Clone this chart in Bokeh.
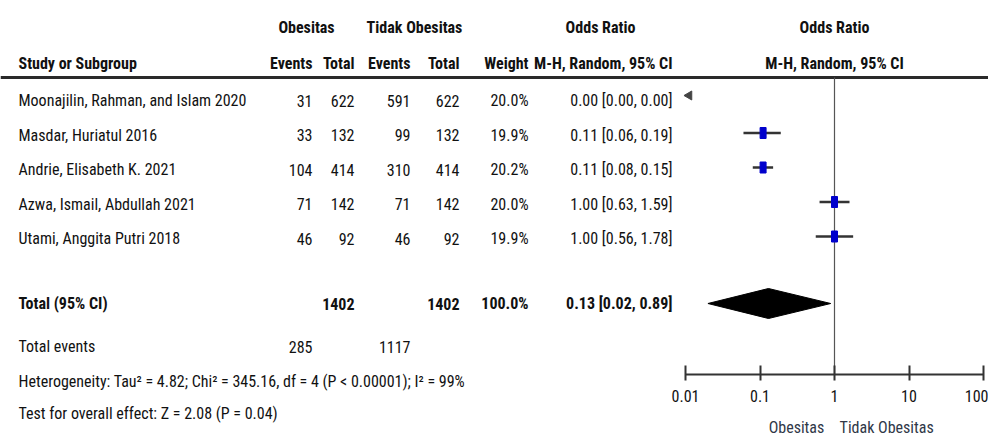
from bokeh.plotting import figure
from bokeh.models import Range1d, LogAxis, FixedTicker, ColumnDataSource, LogScale
from bokeh.core.properties import value
from bokeh.embed import file_html
from bokeh.resources import INLINE

# ---------------- data ----------------
studies = ["Moonajilin, Rahman, and Islam 2020", "Masdar, Huriatul 2016",
           "Andrie, Elisabeth K. 2021", "Azwa, Ismail, Abdullah 2021",
           "Utami, Anggita Putri 2018"]
ev_ob = [31, 33, 104, 71, 46]
tot_ob = [622, 132, 414, 142, 92]
ev_non = [591, 99, 310, 71, 46]
tot_non = [622, 132, 414, 142, 92]
weights = [20.0, 19.9, 20.2, 20.0, 19.9]
or_est = [0.00, 0.11, 0.11, 1.00, 1.00]
or_lo = [0.00, 0.06, 0.08, 0.63, 0.56]
or_hi = [0.00, 0.19, 0.15, 1.59, 1.78]
total_n = [1402, 1402]
total_weight = 100.0
total_or = [0.13, 0.02, 0.89]
total_events = [285, 1117]
heterogeneity = "Heterogeneity: Tau\u00b2 = 4.82; Chi\u00b2 = 345.16, df = 4 (P < 0.00001); I\u00b2 = 99%"
overall = "Test for overall effect: Z = 2.08 (P = 0.04)"
tick_values = [0.01, 0.1, 1, 10, 100]
tick_labels = ["0.01", "0.1", "1", "10", "100"]
group_labels = ["Obesitas", "Tidak Obesitas"]

# ---------------- style ----------------
FONT_NAME = "Roboto Condensed, DejaVu Sans Condensed, Liberation Sans"
FONT = value(FONT_NAME)
FS = "16px"
FSB = "16px"
TXT = "#111111"

row_y = [100 + 34.5 * i for i in range(len(studies))]
total_y = 303
header1_y = 27
header2_y = 63
line_y = 77
axis_y = 374

W, H = 988, 437
# log scale: 0.01 at px 685, 100 at px 983 (frame spans 0..W)
x0_px, decade = 685.0, 74.5
log_lo = 10 ** (-2 - x0_px / decade)
log_hi = 10 ** (2 + (W - (x0_px + 4 * decade)) / decade)

p = figure(width=W, height=H, x_range=Range1d(0, W), y_range=Range1d(H, 0),
           output_backend="svg", toolbar_location=None, min_border=0,
           outline_line_color=None, x_axis_type=None, y_axis_type=None)
p.grid.visible = False
p.extra_x_ranges = {"log": Range1d(log_lo, log_hi)}
p.extra_x_scales = {"log": LogScale()}

ax = LogAxis(x_range_name="log", fixed_location=axis_y,
             ticker=FixedTicker(ticks=tick_values), bounds=(tick_values[0], tick_values[-1]),
             major_label_overrides={v: l for v, l in zip(tick_values, tick_labels)},
             axis_line_color="#333333", axis_line_width=2,
             major_tick_line_color="#333333", major_tick_line_width=2,
             major_tick_in=9, major_tick_out=6, minor_tick_line_color=None,
             major_label_standoff=9, major_label_text_font=FONT_NAME,
             major_label_text_font_size="16px", major_label_text_color=TXT)
p.add_layout(ax, "below")


def txt(x, y, s, align="left", bold=False, size=None, color=TXT, xr="default"):
    p.text(x=[x], y=[y], text=[s], text_font=FONT,
           text_font_size=size or (FSB if bold else FS),
           text_font_style="bold" if bold else "normal",
           text_align=align, text_baseline="middle", text_color=color, x_range_name=xr)


# headers
txt(306, header1_y, group_labels[0], "center", True)
txt(414, header1_y, group_labels[1], "center", True)
txt(600, header1_y, "Odds Ratio", "center", True)
txt(1, header1_y, "Odds Ratio", "center", True, xr="log")
txt(18, header2_y, "Study or Subgroup", "left", True)
col_x = [312, 354, 410, 459, 528, 672]
for x, s in zip(col_x, ["Events", "Total", "Events", "Total", "Weight", "M-H, Random, 95% CI"]):
    txt(x, header2_y, s, "right", True)
txt(1, header2_y, "M-H, Random, 95% CI", "center", True, xr="log")
p.segment(x0=[0], x1=[W], y0=[line_y], y1=[line_y], line_color="#2a2a2a", line_width=3)

# study rows
src = ColumnDataSource(dict(
    y=row_y, name=studies,
    e1=[str(v) for v in ev_ob], t1=[str(v) for v in tot_ob],
    e2=[str(v) for v in ev_non], t2=[str(v) for v in tot_non],
    w=[f"{v:.1f}%" for v in weights],
    ci=[f"{a:.2f} [{b:.2f}, {c:.2f}]" for a, b, c in zip(or_est, or_lo, or_hi)],
))
common = dict(source=src, y="y", text_font=FONT, text_font_size=FS,
              text_baseline="middle", text_color=TXT)
p.text(x=18, text="name", text_align="left", **common)
for x, col in zip(col_x, ["e1", "t1", "e2", "t2", "w", "ci"]):
    p.text(x=x, text=col, text_align="right", **common)

# total rows
txt(18, total_y, "Total (95% CI)", "left", True)
txt(col_x[1], total_y, str(total_n[0]), "right", True)
txt(col_x[3], total_y, str(total_n[1]), "right", True)
txt(col_x[4], total_y, f"{total_weight:.1f}%", "right", True)
txt(col_x[5], total_y, f"{total_or[0]:.2f} [{total_or[1]:.2f}, {total_or[2]:.2f}]", "right", True)
txt(18, 346, "Total events")
txt(col_x[0], 346, str(total_events[0]), "right")
txt(col_x[2], 346, str(total_events[1]), "right")
txt(18, 381, heterogeneity)
txt(18, 413, overall)

# ---------------- forest ----------------
p.segment(x0=[1], x1=[1], y0=[line_y], y1=[axis_y], line_color="#555555", line_width=1.2,
          x_range_name="log")

vis = [i for i in range(len(studies)) if or_lo[i] > 0]
off = [i for i in range(len(studies)) if or_lo[i] <= 0]
fsrc = ColumnDataSource(dict(
    y=[row_y[i] - 2 for i in vis], est=[or_est[i] for i in vis],
    lo=[or_lo[i] for i in vis], hi=[or_hi[i] for i in vis]))
p.segment(x0="lo", x1="hi", y0="y", y1="y", source=fsrc, line_color="#333333", line_width=2.5,
          x_range_name="log")
p.rect(x="est", y="y", width=6, height=11, width_units="screen", height_units="screen",
       source=fsrc, fill_color="#0000CC", line_color="#0000CC", x_range_name="log")
p.scatter(x=[tick_values[0] * 1.12] * len(off), y=[row_y[i] - 5 for i in off],
          marker="triangle", size=9, angle=1.5708, fill_color="#444444", line_color="#444444",
          x_range_name="log")

est, lo, hi = total_or
p.patch(x=[lo, est, hi, est], y=[total_y, total_y - 15, total_y, total_y + 15],
        fill_color="black", line_color="black", x_range_name="log")

txt(0.73, 427, group_labels[0], "right", False, "16px", "#303848", xr="log")
txt(1.17, 427, group_labels[1], "left", False, "16px", "#303848", xr="log")

open("out.html", "w").write(file_html(p, INLINE))
